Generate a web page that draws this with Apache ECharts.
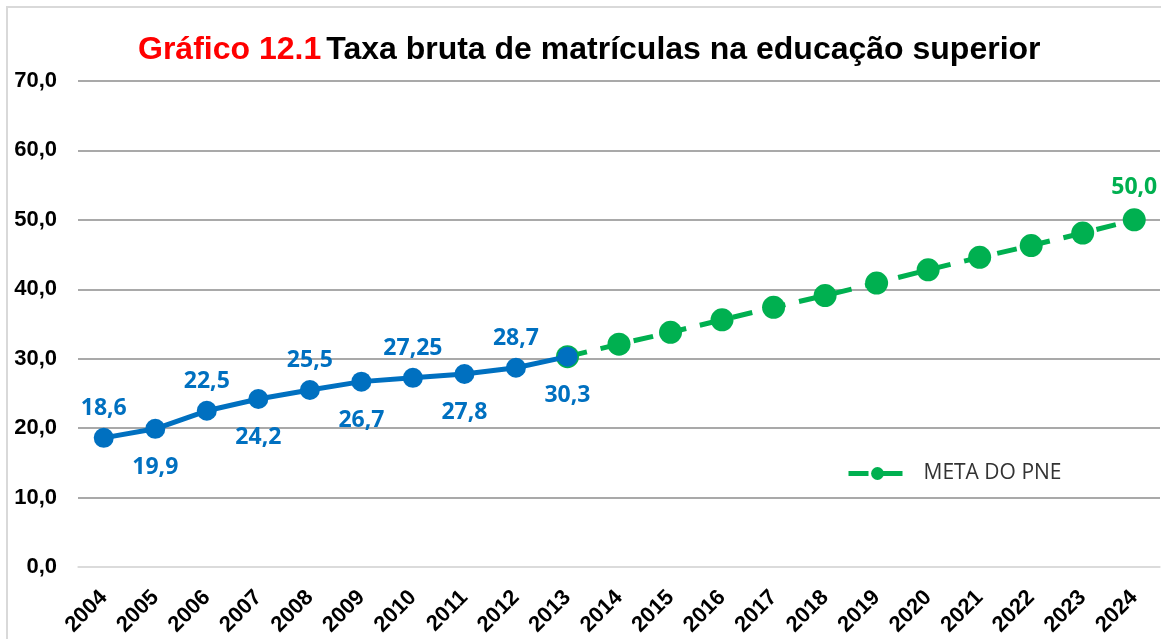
<!DOCTYPE html>
<html>
<head>
<meta charset="utf-8">
<script src="https://cdn.jsdelivr.net/npm/echarts@6/dist/echarts.min.js"></script>
<style>
    html, body { margin: 0; padding: 0; background: #fff; }
    #chart { width: 1161px; height: 639px; }
</style>
</head>
<body>
<div id="chart"></div>
<script>
    // dados
    var anos = ['2004', '2005', '2006', '2007', '2008', '2009', '2010', '2011', '2012', '2013',
                '2014', '2015', '2016', '2017', '2018', '2019', '2020', '2021', '2022', '2023', '2024'];
    var taxaBruta = [18.6, 19.9, 22.5, 24.2, 25.5, 26.7, 27.25, 27.8, 28.7, 30.3];
    var metaAnos = ['2013', '2014', '2015', '2016', '2017', '2018', '2019', '2020', '2021', '2022', '2023', '2024'];
    var metaPne = [30.3, 32.1, 33.8, 35.6, 37.4, 39.1, 40.9, 42.8, 44.6, 46.3, 48.1, 50.0];
    var yTicks = [0, 10, 20, 30, 40, 50, 60, 70];

    function fmt(v) {
        var s = (v % 1 === 0) ? v.toFixed(1) : String(v);
        return s.replace('.', ',');
    }

    var azul = '#0070C0';
    var verde = '#00B050';

    // rótulos alternados: acima / abaixo
    var serieAzul = anos.map(function (a, i) {
        if (i >= taxaBruta.length) return '-';
        return {
            value: taxaBruta[i],
            label: { position: i % 2 === 0 ? 'top' : 'bottom', distance: i % 2 === 0 ? 8 : 17 }
        };
    });

    var serieVerde = anos.map(function (a) {
        var j = metaAnos.indexOf(a);
        if (j < 0) return '-';
        var item = { value: metaPne[j] };
        if (j === metaAnos.length - 1) {
            item.label = { show: true, position: 'top', distance: 9 };
        }
        return item;
    });

    var splitCores = yTicks.map(function (t, i) { return i === 0 ? '#d9d9d9' : '#8c8c8c'; });

    var chart = echarts.init(document.getElementById('chart'));
    chart.setOption({
        animation: false,
        backgroundColor: '#fff',
        graphic: [{
            type: 'rect',
            shape: { x: 7, y: 7, width: 1200, height: 700 },
            style: { fill: 'none', stroke: '#d9d9d9', lineWidth: 2 },
            silent: true
        }],
        title: {
            text: '{r|Gráfico 12.1} {b|Taxa bruta de matrículas na educação superior}',
            left: 133,
            top: 29,
            textStyle: {
                rich: {
                    r: { color: '#ff0000', fontFamily: 'Liberation Sans', fontWeight: 'bold', fontSize: 32 },
                    b: { color: '#000', fontFamily: 'Liberation Sans', fontWeight: 'bold', fontSize: 32 }
                }
            }
        },
        legend: {
            data: ['META DO PNE'],
            left: 841,
            top: 458,
            itemWidth: 58,
            itemHeight: 16,
            lineStyle: { width: 5 },
            textStyle: {
                fontFamily: 'Open Sans',
                fontSize: 21,
                color: '#333',
                padding: [0, 0, 0, 12]
            }
        },
        grid: {
            left: 78,
            right: 1,
            top: 81,
            bottom: 72
        },
        xAxis: {
            type: 'category',
            data: anos,
            boundaryGap: true,
            axisLine: { show: true, lineStyle: { color: '#d9d9d9', width: 1.5 } },
            axisTick: { show: false },
            axisLabel: {
                rotate: 45,
                margin: 27,
                interval: 0,
                color: '#000',
                fontFamily: 'Liberation Sans',
                fontWeight: 'bold',
                fontSize: 22
            }
        },
        yAxis: {
            type: 'value',
            min: 0,
            max: 70,
            interval: 10,
            axisLine: { show: false },
            axisTick: { show: false },
            axisLabel: {
                margin: 21,
                color: '#000',
                fontFamily: 'Liberation Sans',
                fontWeight: 'bold',
                fontSize: 22,
                formatter: function (v) { return fmt(v); }
            },
            splitLine: { lineStyle: { color: splitCores, width: 1.5 } }
        },
        series: [
            {
                name: 'META DO PNE',
                type: 'line',
                z: 2,
                data: serieVerde,
                symbol: 'circle',
                symbolSize: 23,
                itemStyle: { color: verde },
                lineStyle: { color: verde, width: 5, type: [20, 14] },
                label: {
                    show: false,
                    color: verde,
                    fontFamily: 'Open Sans',
                    fontWeight: 'bold',
                    fontSize: 23,
                    formatter: function (p) { return fmt(p.value); }
                }
            },
            {
                name: 'Taxa bruta',
                type: 'line',
                z: 3,
                data: serieAzul,
                symbol: 'circle',
                symbolSize: 20,
                itemStyle: { color: azul },
                lineStyle: { color: azul, width: 5 },
                label: {
                    show: true,
                    color: azul,
                    fontFamily: 'Open Sans',
                    fontWeight: 'bold',
                    fontSize: 23,
                    formatter: function (p) { return fmt(p.value); }
                }
            }
        ]
    });
</script>
</body>
</html>
